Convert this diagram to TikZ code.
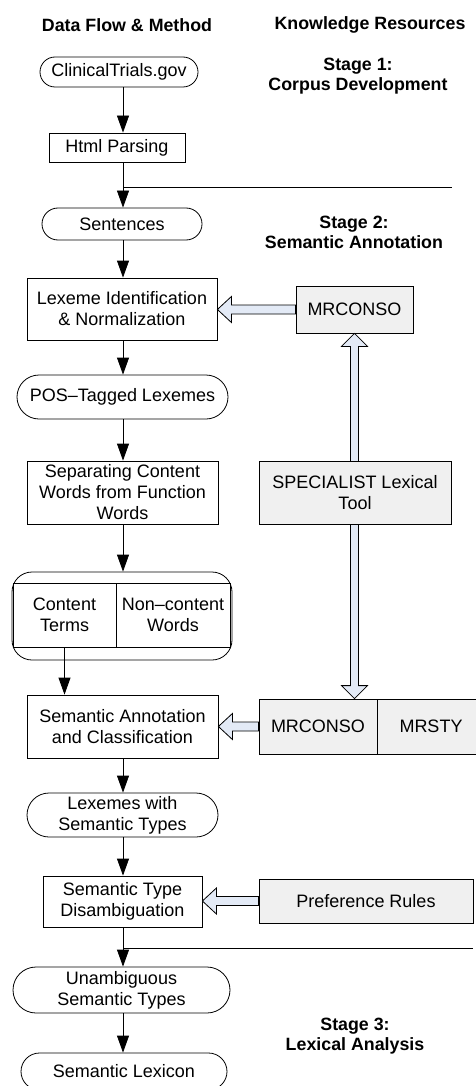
\documentclass[tikz,border=0pt]{standalone}
\usepackage{fontspec}
\setmainfont{Liberation Sans}
\usetikzlibrary{arrows.meta,calc,shapes.misc}
\definecolor{resfill}{HTML}{F0F0F0}
\definecolor{blockfill}{HTML}{E3EAF6}
\tikzset{
  base/.style={font=\fontsize{18}{21}\selectfont, align=center, inner sep=0pt, line width=0.8pt},
  procbox/.style={base, draw, rectangle},
  pill/.style={base, draw, rounded rectangle},
  resbox/.style={base, draw, fill=resfill},
  hdr/.style={font=\bfseries\fontsize{17.8}{20}\selectfont, align=center, inner sep=0pt},
  flow/.style={-{Triangle[length=17pt,width=12pt]}, line width=0.8pt},
  barrow/.style={draw, fill=blockfill, line width=0.8pt, line join=miter},
  rule/.style={line width=0.8pt},
}
% horizontal block arrow from the left side of #1 to the right side of #2
\newcommand{\resarrow}[2]{%
  \filldraw[barrow] ($(#1.west)+(0,4.5)$) -- ($(#2.east |- #1.west)+(14,4.5)$) -- ++(0,8.5)
    -- (#2.east |- #1.west) -- ++(14,-13) -- ++(0,8.5) -- ($(#1.west)+(0,-4.5)$) -- cycle;}
\begin{document}
\begin{tikzpicture}[x=1pt,y=1pt]
\useasboundingbox (0,0) rectangle (476,-1086);
\clip (0,0) rectangle (476,-1086);

% column headings and stage labels
\node[hdr] (hflow) at (127,-25) {Data Flow \& Method};
\node[hdr] (hres) at (370,-25) {Knowledge Resources};
\node[hdr] (st1) at (358,-76) {Stage 1:\\Corpus Development};
\node[hdr] (st2) at (354,-232) {Stage 2:\\Semantic Annotation};
\node[hdr] (st3) at (355,-1036) {Stage 3:\\Lexical Analysis};

\coordinate (col) at (123,0);

% data flow column
\node[pill, minimum width=158pt, minimum height=30pt] (ct) at (119,-72) {ClinicalTrials.gov};
\node[procbox, minimum width=136pt, minimum height=29pt] (html) at (117,-147.5) {Html Parsing};
\node[pill, minimum width=160pt, minimum height=32pt] (sent) at (122,-224) {Sentences};
\node[procbox, minimum width=190pt, minimum height=62pt] (lex) at (122,-309) {Lexeme Identification\\\& Normalization};
\node[pill, minimum width=211pt, minimum height=44pt] (pos) at (122.5,-397) {POS--Tagged Lexemes};
\node[procbox, minimum width=191pt, minimum height=63pt] (sep) at (122.5,-492.5) {Separating Content\\Words from Function\\Words};
\node[base, draw, rounded corners=20pt, minimum width=220pt, minimum height=88pt] (split) at (122,-616) {};
\node[procbox, minimum width=103pt, minimum height=64pt] (content) at (64.5,-615) {Content\\Terms};
\node[procbox, minimum width=114pt, minimum height=64pt] (noncontent) at (173,-615) {Non--content\\Words};
\node[procbox, minimum width=191pt, minimum height=63pt] (sa) at (122.5,-726.5) {Semantic Annotation\\and Classification};
\node[pill, minimum width=191pt, minimum height=44pt] (lst) at (122.5,-815) {Lexemes with\\Semantic Types};
\node[procbox, minimum width=159pt, minimum height=51pt] (std) at (122.5,-901.5) {Semantic Type\\Disambiguation};
\node[pill, minimum width=217pt, minimum height=46pt] (ust) at (121.5,-990) {Unambiguous\\Semantic Types};
\node[pill, minimum width=206pt, minimum height=37pt] (slex) at (124,-1071.5) {Semantic Lexicon};

% knowledge resources
\node[resbox, minimum width=117pt, minimum height=47pt] (mr1) at (354.5,-309.5) {MRCONSO};
\node[resbox, minimum width=118pt, minimum height=55pt] (mr2) at (318,-726.5) {MRCONSO};
\node[resbox, minimum width=108pt, minimum height=55pt] (mrsty) at (431,-726.5) {MRSTY};

% double block arrow between the two MRCONSO tables
\filldraw[barrow] (mr1.south) -- ++(13,-13) -- ++(-9,0) -- ($(mr1.south |- mr2.north)+(4,13)$) -- ++(9,0)
  -- (mr1.south |- mr2.north) -- ++(-13,13) -- ++(9,0) -- ($(mr1.south)+(-4,-13)$) -- ++(-9,0) -- cycle;

\node[resbox, minimum width=192pt, minimum height=63pt] (spec) at (355,-492.5) {SPECIALIST Lexical\\Tool};
\node[resbox, minimum width=214pt, minimum height=44pt] (pref) at (366,-901) {Preference Rules};

\resarrow{mr1}{lex}
\resarrow{mr2}{sa}
\resarrow{pref}{std}

% stage boundaries
\coordinate (b1s) at (123,-187);
\coordinate (b1e) at (452,-187);
\coordinate (b2s) at (123,-948);
\coordinate (b2e) at (473,-948);
\draw[rule] (b1s) -- (b1e);
\draw[rule] (b2s) -- (b2e);

% flow arrows
\draw[flow] (ct.south -| col) -- (html.north -| col);
\draw[flow] (html.south -| col) -- (sent.north -| col);
\draw[flow] (sent.south -| col) -- (lex.north -| col);
\draw[flow] (lex.south -| col) -- (pos.north -| col);
\draw[flow] (pos.south -| col) -- (sep.north -| col);
\draw[flow] (sep.south -| col) -- (split.north -| col);
\draw[flow] (content.south) -- (content.south |- sa.north);
\draw[flow] (sa.south -| col) -- (lst.north -| col);
\draw[flow] (lst.south -| col) -- (std.north -| col);
\draw[flow] (std.south -| col) -- (ust.north -| col);
\draw[flow] (ust.south -| col) -- (slex.north -| col);
\end{tikzpicture}
\end{document}
